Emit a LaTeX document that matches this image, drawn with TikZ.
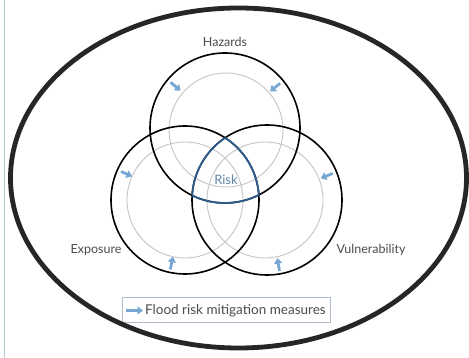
\documentclass[tikz,border=0pt]{standalone}
\usepackage{fontspec}
\setmainfont{Lato}
\usetikzlibrary{arrows.meta}
\definecolor{ringgray}{HTML}{C4C4C4}
\definecolor{riskblue}{HTML}{2E5C8C}
\definecolor{measureblue}{HTML}{78A6D2}
\definecolor{labelgray}{HTML}{4C4C4C}
\definecolor{framegray}{HTML}{AEBCCB}
\definecolor{edgeline}{HTML}{B4C8CC}
\tikzset{
  factor/.style={draw=black, line width=1.6pt},
  inner ring/.style={draw=ringgray, line width=0.9pt},
  measure/.style={draw=measureblue, line width=2.8pt, -{Triangle[length=5.5pt,width=8pt]}},
  factorlabel/.style={text=labelgray, font=\fontsize{12.5}{14}\selectfont, inner sep=1pt},
}
\begin{document}
\begin{tikzpicture}[x=1pt,y=1pt]
\useasboundingbox (0,0) rectangle (469,358);
\fill[white] (0,0) rectangle (469,358);
\draw[edgeline, line width=1.4pt] (4.5,0) -- (4.5,358);

% centres of the three factors
\coordinate (hz) at (225,230);
\coordinate (ex) at (185,158);
\coordinate (vu) at (267,158);

% inner grey rings
\draw[inner ring] (226,228) circle (57);
\draw[inner ring] (185,158) circle (58);
\draw[inner ring] (265,158) circle (58);

% the three factor circles
\draw[factor] (hz) circle (75);
\draw[factor] (ex) circle (74);
\draw[factor] (vu) circle (75);

% outline of the common area (risk)
\begin{scope}
  \clip (ex) circle (74);
  \clip (vu) circle (75);
  \draw[riskblue, line width=1.8pt] (hz) circle (75);
\end{scope}
\begin{scope}
  \clip (hz) circle (75);
  \clip (vu) circle (75);
  \draw[riskblue, line width=1.8pt] (ex) circle (74);
\end{scope}
\begin{scope}
  \clip (hz) circle (75);
  \clip (ex) circle (74);
  \draw[riskblue, line width=1.8pt] (vu) circle (75);
\end{scope}

% mitigation measures acting on each factor
\draw[measure] ([shift={(140:71)}]hz) -- ([shift={(140:58)}]hz);
\draw[measure] ([shift={(39:71)}]hz) -- ([shift={(39:58)}]hz);
\draw[measure] ([shift={(156:70)}]ex) -- ([shift={(156:58)}]ex);
\draw[measure] ([shift={(258:71)}]ex) -- ([shift={(258:58)}]ex);
\draw[measure] ([shift={(22:71)}]vu) -- ([shift={(22:58)}]vu);
\draw[measure] ([shift={(280:72)}]vu) -- ([shift={(280:59)}]vu);

% labels
\node[factorlabel] (lhz) at (225,316) {Hazards};
\node[factorlabel] (lex) at (96,108) {Exposure};
\node[factorlabel] (lvu) at (371,108) {Vulnerability};
\node[text=riskblue!75, font=\fontsize{13}{15}\selectfont, inner sep=1pt] (lrisk) at (226,178) {Risk};

% legend
\node[draw=framegray, line width=0.8pt, minimum width=208pt, minimum height=25pt, anchor=south west] (legend) at (122,35) {};
\coordinate (legarrow) at (126,47.5);
\draw[measure] (legarrow) -- ++(17,0);
\node[anchor=west, text=labelgray, font=\fontsize{13.5}{15}\selectfont, inner sep=0pt] (legtext) at (145,47.5) {Flood risk mitigation measures};

% surrounding ellipse
\draw[line width=4.8pt, black!85] (238.5,180) ellipse (228 and 170);
\end{tikzpicture}
\end{document}
